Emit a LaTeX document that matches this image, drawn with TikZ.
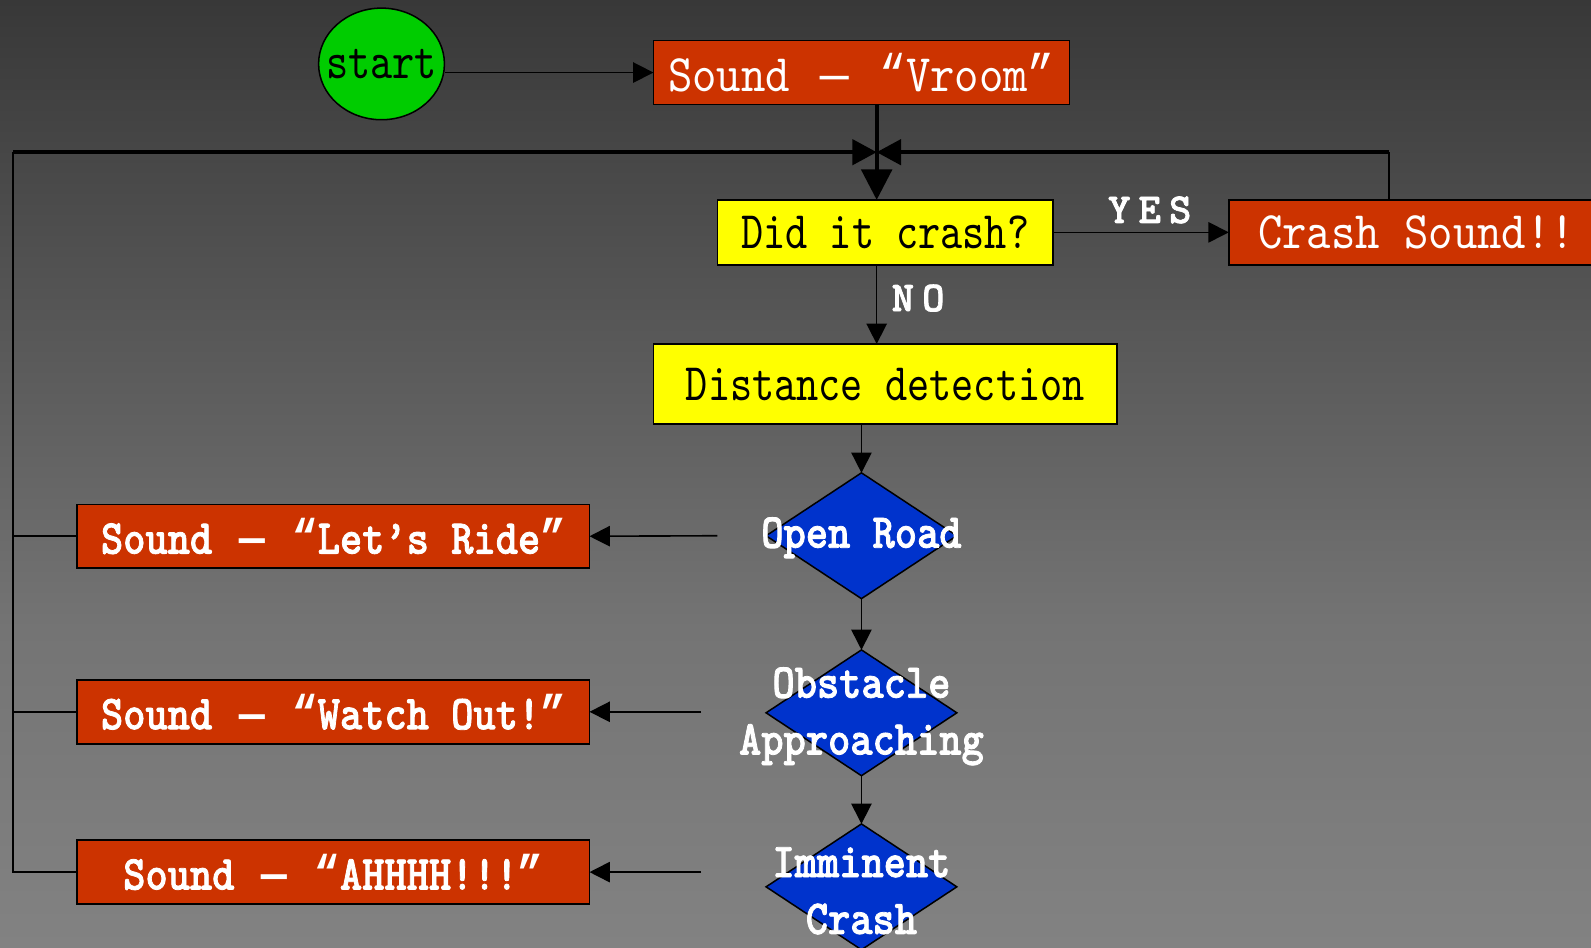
\documentclass[tikz,border=0pt]{standalone}
\usepackage{fontspec}
\usetikzlibrary{shapes.geometric,arrows.meta}
\newfontfamily\rfont{lmmono10-regular.otf}[FakeStretch=0.80]
\newfontfamily\rwfont{lmmono10-regular.otf}[FakeStretch=0.88]
\newfontfamily\bfont{lmmonolt10-bold.otf}[FakeStretch=0.87,FakeBold=1.6]
\newfontfamily\yfont{lmmonolt10-bold.otf}[FakeBold=1.6]
\newfontfamily\qfont{Liberation Mono}[FakeStretch=0.85]
\newfontfamily\qbfont{Liberation Mono Bold}[FakeStretch=0.87]
\newcommand{\myql}{{\qfont “}}
\newcommand{\myqr}{{\qfont ”}}
\newcommand{\mydash}{\scalebox{1.5}[1]{\qfont –}}
\newcommand{\mybql}{{\qbfont “}}
\newcommand{\mybqr}{{\qbfont ”}}
\newcommand{\mybdash}{\scalebox{1.4}[1]{\qbfont –}}
\definecolor{cred}{HTML}{CC3300}
\definecolor{cyel}{HTML}{FFFF00}
\definecolor{cgrn}{HTML}{00CC00}
\definecolor{cblu}{HTML}{0033CC}
\definecolor{bgtop}{HTML}{383838}
\definecolor{bgmid}{HTML}{747474}
\definecolor{bgbot}{HTML}{828282}
\tikzset{
  box/.style={draw=black, line width=1.5pt, inner sep=0pt, outer sep=0pt},
  redbox/.style={box, fill=cred, text=white},
  yelbox/.style={box, fill=cyel, text=black},
  regtext/.style={font=\rfont\fontsize{52}{56}\selectfont},
  regwtext/.style={font=\rwfont\fontsize{52}{56}\selectfont},
  boldtext/.style={font=\bfont\fontsize{48}{56}\selectfont},
  lbl/.style={text=white, font=\yfont\fontsize{42}{44}\selectfont, inner sep=0pt},
  dia/.style={diamond, draw=black, line width=1.5pt, fill=cblu, minimum width=188pt, minimum height=124pt, inner sep=0pt, outer sep=0pt},
  diatext/.style={text=white, boldtext, align=center, inner sep=0pt, outer sep=0pt},
  conn/.style={line width=1.6pt},
  arr/.style={conn, -{Triangle[length=20pt,width=20pt]}},
  thickarr/.style={line width=4pt, -{Triangle[length=30pt,width=30pt]}},
  bowarr/.style={line width=3.5pt, -{Triangle[length=24pt,width=25pt]}},
}
\begin{document}
\begin{tikzpicture}[x=1pt,y=-1pt]
\useasboundingbox (0,0) rectangle (1568,934);
\clip (0,0) rectangle (1568,934);
\shade[top color=bgtop, bottom color=bgmid] (0,0) rectangle (1568,620);
\shade[top color=bgmid, bottom color=bgbot] (0,620) rectangle (1568,934);

% nodes
\node[ellipse, draw=black, line width=1.5pt, fill=cgrn, minimum width=124pt, minimum height=110pt, inner sep=0pt, text=black, font=\rfont\fontsize{52}{54}\selectfont] (start) at (376,63) {\makebox[0pt]{start}};
\node[redbox, regwtext, minimum width=410pt, minimum height=63pt] (vroom) at (849,71.5) {Sound \mydash{} \myql Vroom\myqr};
\node[yelbox, regtext, minimum width=331pt, minimum height=64pt] (did) at (872.5,229) {Did it crash?};
\node[redbox, regwtext, minimum width=370pt, minimum height=64pt] (crash) at (1396,229) {Crash Sound!!};
\node[yelbox, regtext, minimum width=457pt, minimum height=79pt] (dist) at (872.5,378.5) {Distance detection};

\node[dia] (orD) at (849,528) {};
\node[dia] (obD) at (849,702.5) {};
\node[dia] (imD) at (849,874) {};
\node[diatext, minimum width=284pt] (orT) at (849,530) {Open Road};
\node[diatext, minimum width=316pt] (obT) at (849,706) {Obstacle\\Approaching};
\node[diatext, minimum width=316pt] (imT) at (849,878) {Imminent\\Crash};

\node[redbox, boldtext, minimum width=505pt, minimum height=63pt] (lets) at (328.5,528.5) {Sound \mybdash{} \mybql Let’s Ride\mybqr};
\node[redbox, boldtext, minimum width=505pt, minimum height=63pt] (watch) at (328.5,701.5) {Sound \mybdash{} \mybql Watch Out!\mybqr};
\node[redbox, boldtext, minimum width=505pt, minimum height=63pt] (ahh) at (328.5,859.5) {Sound \mybdash{} \mybql AHHHH!!!\mybqr};

\coordinate (J) at (864,150);
\coordinate (L) at (13,150);
\coordinate (R) at (1369,150);

% connectors
\draw[arr] (start.east |- vroom.west) -- (vroom.west);
\draw[thickarr] (vroom.south -| J) -- (did.north -| J);
\draw[conn] (lets.west) -- (lets.west -| L);
\draw[conn] (watch.west) -- (watch.west -| L);
\draw[conn] (ahh.west) -- (ahh.west -| L) -- (L);
\draw[bowarr] (L) -- (J);
\draw[conn] (crash.north -| R) -- (R);
\draw[bowarr] (R) -- (J);
\draw[arr] (did.east) -- node[lbl, above=8pt, pos=0.55] (yes) {Y\kern8pt E\kern8pt S} (crash.west);
\draw[arr] (did.south -| J) -- node[lbl, right=14pt, pos=0.42] (no) {N\kern8pt O} (dist.north -| J);
\draw[arr] (dist.south -| orD) -- (orD.north);
\draw[arr] (orD.south) -- (obD.north);
\draw[arr] (obD.south) -- (imD.north);
\draw[arr] (orT.west |- orD) -- (lets.east);
\draw[arr] (obT.west |- watch) -- (watch.east);
\draw[arr] (imT.west |- ahh) -- (ahh.east);
\end{tikzpicture}
\end{document}
